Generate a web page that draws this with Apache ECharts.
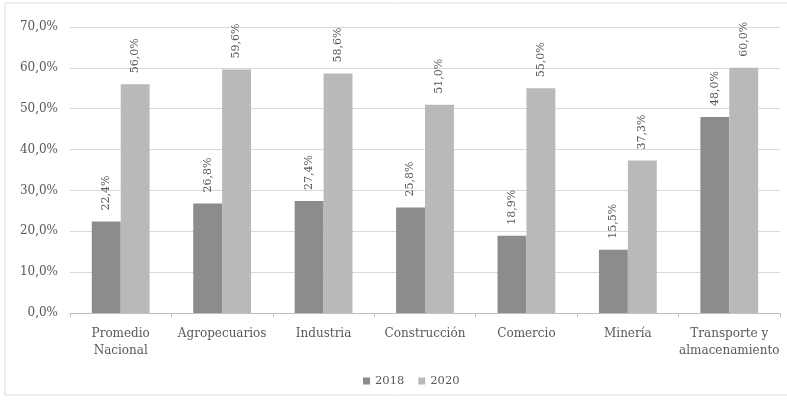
<!DOCTYPE html>
<html><head><meta charset="utf-8">
<script src="https://cdn.jsdelivr.net/npm/echarts@6/dist/echarts.min.js"></script>
<style>html,body{margin:0;padding:0;background:#fff}#c{width:787px;height:400px}</style>
</head><body><div id="c"></div>
<script>
const categories = ['Promedio\nNacional','Agropecuarios','Industria','Construcción','Comercio','Minería','Transporte y\nalmacenamiento'];
const seriesNames = ['2018','2020'];
const values2018 = [22.4, 26.8, 27.4, 25.8, 18.9, 15.5, 48.0];
const values2020 = [56.0, 59.6, 58.6, 51.0, 55.0, 37.3, 60.0];
const yTicks = [0,10,20,30,40,50,60,70];

const FONT = '"DejaVu Serif", "Liberation Serif", serif';
const TXT = '#595959';
const fmt = v => v.toFixed(1).replace('.', ',') + '%';

const chart = echarts.init(document.getElementById('c'), null, {renderer:'canvas'});
chart.setOption({
  animation:false,
  backgroundColor:'#fff',
  graphic:[{type:'rect', shape:{x:5,y:3,width:790,height:392}, style:{fill:'none', stroke:'#dcdcdc', lineWidth:1}, silent:true}],
  grid:{left:70, right:7, top:27, bottom:87},
  legend:{
    bottom:8, left:358,
    itemWidth:7, itemHeight:7, itemGap:14,
    icon:'rect',
    textStyle:{fontFamily:FONT, fontSize:11.5, color:TXT},
    data:seriesNames
  },
  xAxis:{
    type:'category', data:categories,
    axisLine:{lineStyle:{color:'#bfbfbf'}},
    axisTick:{show:true, length:4, lineStyle:{color:'#bfbfbf'}},
    axisLabel:{fontFamily:FONT, fontSize:12, color:TXT, margin:12, lineHeight:17, interval:0}
  },
  yAxis:{
    type:'value', min:yTicks[0], max:yTicks[yTicks.length-1], interval:10,
    axisLine:{show:false}, axisTick:{show:false},
    splitLine:{lineStyle:{color:'#d9d9d9'}},
    axisLabel:{fontFamily:FONT, fontSize:12, color:TXT, margin:12, formatter:v=>fmt(v)}
  },
  series:[
    {name:seriesNames[0], type:'bar', data:values2018, barGap:'0%', barCategoryGap:'43%',
     itemStyle:{color:'#8c8c8c'},
     label:{show:true, position:'top', rotate:90, align:'left', verticalAlign:'middle', distance:11,
            fontFamily:FONT, fontSize:11, color:TXT, formatter:p=>fmt(p.value)}},
    {name:seriesNames[1], type:'bar', data:values2020, barGap:'0%', barCategoryGap:'43%',
     itemStyle:{color:'#b9b9b9'},
     label:{show:true, position:'top', rotate:90, align:'left', verticalAlign:'middle', distance:11,
            fontFamily:FONT, fontSize:11, color:TXT, formatter:p=>fmt(p.value)}}
  ]
});
</script></body></html>
